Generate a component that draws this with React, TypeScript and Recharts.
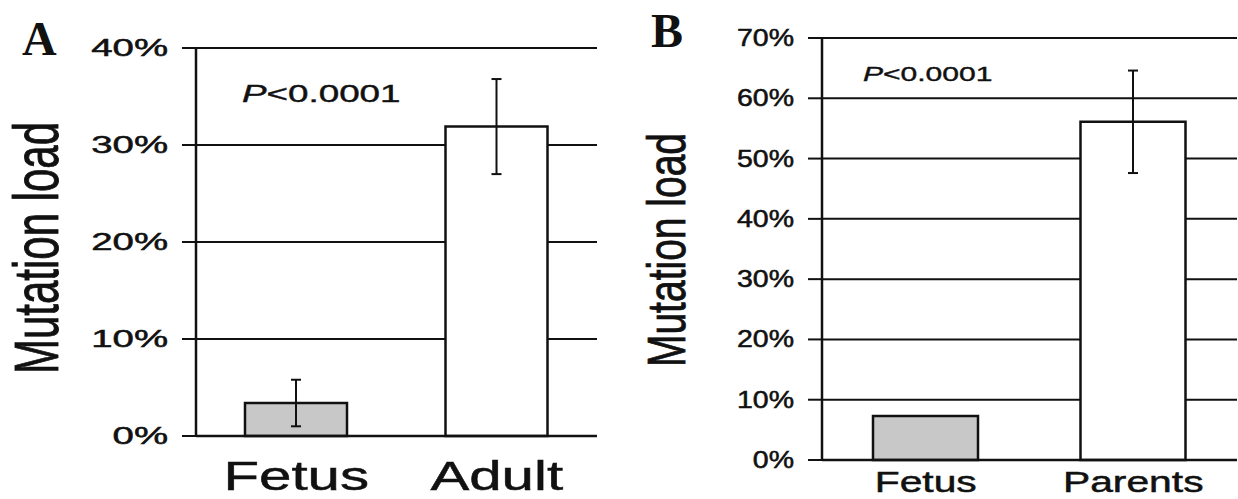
import React from 'react';
import { BarChart, Bar, XAxis, YAxis, CartesianGrid, ErrorBar, Cell } from 'recharts';

// Panel A: fetal vs adult mutation load
const categoriesA = ['Fetus', 'Adult'];
const loadA = [3.4, 31.9];
const errorA = [2.4, 4.9];
const ticksA = [0, 10, 20, 30, 40];

// Panel B: fetal vs parental mutation load
const categoriesB = ['Fetus', 'Parents'];
const loadB = [7.3, 56.1];
const errorB = [0, 8.5];
const ticksB = [0, 10, 20, 30, 40, 50, 60, 70];

const barFills = ['#c8c8c8', '#ffffff'];
const yLabel = 'Mutation load';
const pPrefix = 'P';
const pRest = '<0.0001';

const FONT = '"Liberation Sans", Arial, Helvetica, sans-serif';
const INK = '#111';

const rowsA = categoriesA.map((name, i) => ({ name, load: loadA[i], err: errorA[i] }));
const rowsB = categoriesB.map((name, i) => ({ name, load: loadB[i], err: errorB[i] }));

type TickOpts = { fontSize: number; sx: number; anchor: 'start' | 'middle' | 'end'; dy: number; fmt: (v: any) => string };

function makeTick(opts: TickOpts) {
  return (props: any) => {
    const { x, y, payload } = props;
    return (
      <g transform={`translate(${x},${y})`}>
        <text
          transform={`scale(${opts.sx},1)`}
          textAnchor={opts.anchor}
          dy={opts.dy}
          fontSize={opts.fontSize}
          fontFamily={FONT}
          fill={INK}
          stroke={INK}
          strokeWidth={0.5}
        >
          {opts.fmt(payload.value)}
        </text>
      </g>
    );
  };
}

const pct = (v: any) => `${v}%`;
const same = (v: any) => `${v}`;

type PanelProps = {
  rows: { name: string; load: number; err: number }[];
  ticks: number[];
  width: number;
  marginTop: number;
  marginRight: number;
  yAxisWidth: number;
  xAxisHeight: number;
  barSize: number;
  tickFont: number;
  tickSx: number;
  catFont: number;
  catSx: number;
  catDy: number;
};

function Panel(p: PanelProps) {
  const max = p.ticks[p.ticks.length - 1];
  return (
    <BarChart
      width={p.width}
      height={499}
      data={p.rows}
      margin={{ top: p.marginTop, right: p.marginRight, left: 0, bottom: 0 }}
      barCategoryGap="0%"
    >
      <CartesianGrid yAxisId="left" vertical={false} stroke={INK} strokeWidth={2} strokeOpacity={1} />
      <XAxis
        dataKey="name"
        height={p.xAxisHeight}
        axisLine={{ stroke: INK, strokeWidth: 2.5 }}
        tickLine={false}
        tickSize={0}
        tickMargin={0}
        interval={0}
        tick={makeTick({ fontSize: p.catFont, sx: p.catSx, anchor: 'middle', dy: p.catDy, fmt: same })}
      />
      <YAxis
        yAxisId="left"
        width={p.yAxisWidth}
        domain={[0, max]}
        ticks={p.ticks}
        interval={0}
        axisLine={{ stroke: INK, strokeWidth: 2.5 }}
        tickLine={{ stroke: INK, strokeWidth: 2 }}
        tickSize={14}
        tickMargin={14}
        tick={makeTick({ fontSize: p.tickFont, sx: p.tickSx, anchor: 'end', dy: p.tickFont * 0.35, fmt: pct })}
      />
      <YAxis
        yAxisId="frame"
        orientation="right"
        width={0}
        domain={[0, max]}
        ticks={p.ticks}
        tick={false}
        tickLine={false}
        axisLine={{ stroke: INK, strokeWidth: 2.5 }}
      />
      <Bar yAxisId="left" dataKey="load" barSize={p.barSize} stroke={INK} strokeWidth={2.5} isAnimationActive={false}>
        {p.rows.map((r, i) => (
          <Cell key={r.name} fill={barFills[i]} />
        ))}
        <ErrorBar dataKey="err" width={5} stroke={INK} strokeWidth={2} direction="y" />
      </Bar>
    </BarChart>
  );
}

function Overlay() {
  return (
    <svg width={1238} height={499} style={{ position: 'absolute', left: 0, top: 0, pointerEvents: 'none' }}>
      {/* panel letters */}
      <text x={22} y={55} fontFamily='"Liberation Serif", "Times New Roman", serif' fontWeight="bold" fontSize={48} fill={INK}>
        A
      </text>
      <text x={651} y={47} fontFamily='"Liberation Serif", "Times New Roman", serif' fontWeight="bold" fontSize={48} fill={INK}>
        B
      </text>

      {/* axis titles */}
      <text
        transform="translate(58,248) rotate(-90) scale(1,1.5)"
        textAnchor="middle"
        fontFamily={FONT}
        fontSize={42}
        fill={INK}
        stroke={INK}
        strokeWidth={0.6}
      >
        {yLabel}
      </text>
      <text
        transform="translate(685,250) rotate(-90) scale(1,1.36)"
        textAnchor="middle"
        fontFamily={FONT}
        fontSize={39}
        fill={INK}
        stroke={INK}
        strokeWidth={0.6}
      >
        {yLabel}
      </text>

      {/* significance notes */}
      <text transform="translate(242,102) scale(1.6,1)" fontFamily={FONT} fontSize={23} fill={INK} stroke={INK} strokeWidth={0.4}>
        <tspan fontStyle="italic">{pPrefix}</tspan>
        <tspan>{pRest}</tspan>
      </text>
      <text transform="translate(863,81) scale(1.43,1)" fontFamily={FONT} fontSize={21} fill={INK} stroke={INK} strokeWidth={0.4}>
        <tspan fontStyle="italic">{pPrefix}</tspan>
        <tspan>{pRest}</tspan>
      </text>
    </svg>
  );
}

export default function App() {
  return (
    <div style={{ position: 'absolute', left: 0, top: 0, width: 1238, height: 499, background: '#fff', overflow: 'hidden' }}>
      <div style={{ position: 'absolute', left: 0, top: 0 }}>
        <Panel
          rows={rowsA}
          ticks={ticksA}
          width={620}
          marginTop={48}
          marginRight={23}
          yAxisWidth={196}
          xAxisHeight={63}
          barSize={102}
          tickFont={24}
          tickSx={1.6}
          catFont={41}
          catSx={1.42}
          catDy={54}
        />
      </div>
      <div style={{ position: 'absolute', left: 620, top: 0 }}>
        <Panel
          rows={rowsB}
          ticks={ticksB}
          width={618}
          marginTop={38}
          marginRight={1}
          yAxisWidth={202}
          xAxisHeight={39}
          barSize={105}
          tickFont={23}
          tickSx={1.24}
          catFont={30}
          catSx={1.36}
          catDy={32}
        />
      </div>
      <Overlay />
    </div>
  );
}
